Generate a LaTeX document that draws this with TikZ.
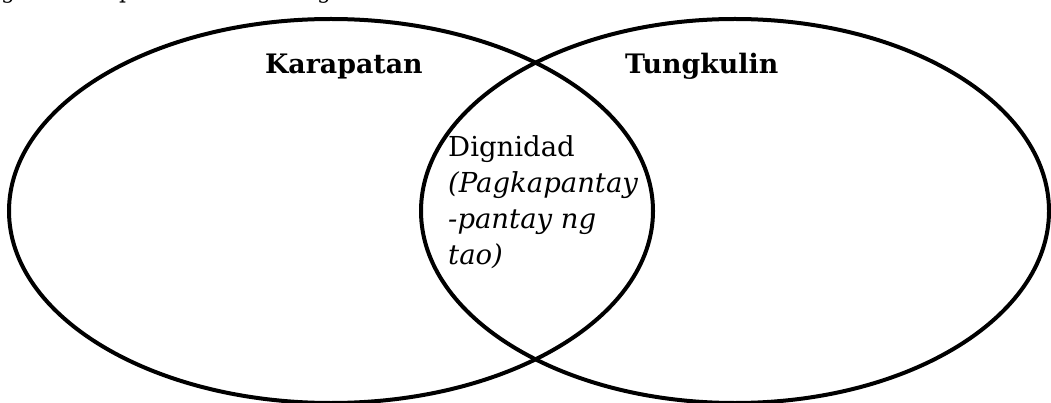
\documentclass[tikz,border=0pt]{standalone}
\usepackage{fontspec}
\setmainfont{DejaVu Serif}
\begin{document}
\begin{tikzpicture}[x=1pt,y=-1pt,
  venn/.style={line width=4pt, draw=black},
  lbl/.style={anchor=base west, inner sep=0pt, font=\fontsize{27.5}{36}\selectfont},
  head/.style={anchor=base west, inner sep=0pt, font=\fontsize{26.8}{32}\selectfont\bfseries},
  frag/.style={anchor=base west, inner sep=0pt, font=\fontsize{22}{28}\selectfont}]
\useasboundingbox (0,0) rectangle (1051,403);
\begin{scope}
\clip (0,0) rectangle (1051,403);
\draw[venn] (331,211) ellipse [x radius=322, y radius=192];
\draw[venn] (735,211) ellipse [x radius=314, y radius=192];
\node[frag] (f1) at (1,-1) {g};
\node[frag] (f2) at (119,-1) {p};
\node[frag] (f3) at (317,-1) {g};
\end{scope}
\node[head] (kar) at (265,74) {Karapatan};
\node[head] (tun) at (625,74) {Tungkulin};
\node[lbl] (dig1) at (448,157) {Dignidad};
\node[lbl] (dig2) at (448,193) {\itshape (Pagkapantay};
\node[lbl] (dig3) at (448,229) {\itshape -pantay ng};
\node[lbl] (dig4) at (448,265) {\itshape tao)};
\end{tikzpicture}
\end{document}
